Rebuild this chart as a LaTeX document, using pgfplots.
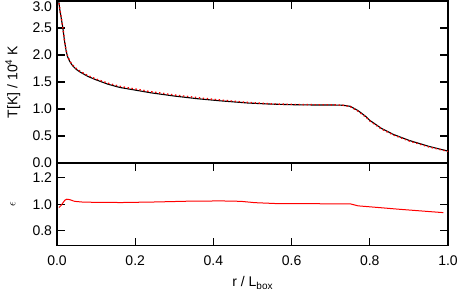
\documentclass[border=0pt]{standalone}
\usepackage{fontspec}
\setmainfont{Liberation Sans}
\usepackage{pgfplots}
\pgfplotsset{compat=1.18}

\pgfplotsset{
  idlstyle/.style={
    scale only axis,
    width=391pt,
    xmin=0,xmax=1,
    axis line style={line width=1.1pt},
    every tick/.style={black,line width=1.1pt},
    major tick length=8pt,
    tick align=inside,
    ytick pos=both,
    font=\fontsize{14}{16}\selectfont,
    /pgf/number format/assume math mode=true,
    /pgf/number format/fixed,
    /pgf/number format/fixed zerofill,
    /pgf/number format/precision=1,
    yticklabel style={xshift=-1.5pt},
    every axis y label/.style={at={(axis description cs:-0.113,0.5)},rotate=90,anchor=center},
  }
}

\begin{document}
\begin{tikzpicture}
\useasboundingbox (0,0) rectangle (458pt,-298pt);

\begin{axis}[idlstyle,
  at={(57pt,-1pt)},anchor=north west,
  height=162pt,
  ymin=0,ymax=3.0,
  ytick={0,0.5,...,2.5},
  extra y ticks={3.0},
  extra y tick style={yticklabel style={yshift=-5.5pt}},
  xtick={0,0.2,...,1.0},
  xtick pos=right,
  xticklabels={},
  ylabel={T[K] / 10\textsuperscript{4} K},
]
\addplot[black,line width=1.1pt] coordinates {
(0.004,3.02)(0.007,2.85)(0.010,2.72)(0.0146,2.52)(0.019,2.27)(0.023,2.09)
(0.027,1.97)(0.032,1.89)(0.037,1.83)(0.042,1.785)(0.050,1.73)(0.060,1.68)
(0.070,1.64)(0.080,1.60)(0.100,1.54)(0.130,1.46)
(0.160,1.40)(0.200,1.35)(0.240,1.30)(0.300,1.24)(0.360,1.19)(0.420,1.15)
(0.490,1.11)(0.550,1.09)(0.600,1.08)(0.650,1.075)(0.700,1.075)(0.730,1.07)
(0.750,1.05)(0.770,0.97)(0.790,0.86)(0.800,0.79)(0.830,0.64)(0.860,0.53)
(0.900,0.42)(0.950,0.31)(1.000,0.22)
};
\addplot[red,line width=1.4pt,dash pattern=on 1.4pt off 2.6pt] coordinates {
(0.004,3.03)(0.007,2.86)(0.010,2.73)(0.0146,2.53)(0.019,2.28)(0.023,2.10)
(0.027,1.98)(0.032,1.90)(0.037,1.84)(0.042,1.80)(0.050,1.745)(0.060,1.695)
(0.070,1.655)(0.080,1.615)(0.100,1.555)(0.130,1.478)
(0.160,1.42)(0.200,1.37)(0.240,1.32)(0.300,1.26)(0.360,1.21)(0.420,1.165)
(0.490,1.12)(0.550,1.095)(0.600,1.085)(0.650,1.08)(0.700,1.078)(0.730,1.072)
(0.750,1.045)(0.770,0.96)(0.790,0.85)(0.800,0.78)(0.830,0.63)(0.860,0.52)
(0.900,0.41)(0.950,0.30)(1.000,0.215)
};
\end{axis}

\begin{axis}[idlstyle,
  at={(57pt,-163pt)},anchor=north west,
  height=82.5pt,
  ymin=0.69,ymax=1.31,
  ytick={0.8,1.0,1.2},
  xtick={0,0.2,...,1.0},
  xtick pos=both,
  xticklabel style={yshift=-7pt},
  xlabel={r / L\raisebox{-0.35ex}{\fontsize{10}{11}\selectfont box}},
  xlabel style={yshift=-4pt},
  ylabel={\fontsize{12}{13}\selectfont$\epsilon$},
]
\addplot[red,line width=1pt] coordinates {
(0.005,0.975)(0.010,0.99)(0.015,1.01)(0.020,1.03)(0.025,1.038)(0.032,1.035)
(0.045,1.022)(0.063,1.017)(0.100,1.014)(0.166,1.013)(0.250,1.017)(0.336,1.023)
(0.420,1.025)(0.470,1.022)(0.506,1.012)(0.562,1.005)(0.650,1.004)(0.750,1.003)
(0.770,0.988)(0.820,0.976)(0.877,0.962)(0.930,0.950)(0.988,0.937)
};
\end{axis}
\end{tikzpicture}
\end{document}
